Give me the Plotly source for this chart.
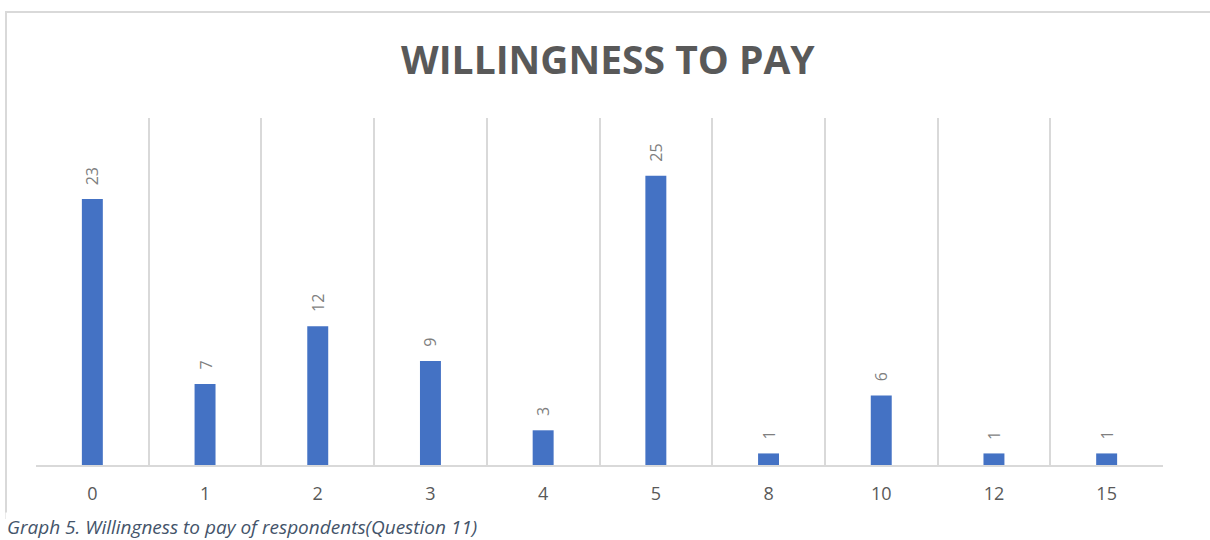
import plotly.graph_objects as go

# Amount respondents are willing to pay (categories) and respondent counts
amounts = ["0", "1", "2", "3", "4", "5", "8", "10", "12", "15"]
respondents = [23, 7, 12, 9, 3, 25, 1, 6, 1, 1]

chart_title = "WILLINGNESS TO PAY"
caption = "Graph 5. Willingness to pay of respondents(Question 11)"

W, H = 1210, 540
L, R, T, B = 36, 47, 118, 75
plot_w = W - L - R
plot_h = H - T - B


def px_x(px):
    return (px - L) / plot_w


def px_y(py):
    return (H - B - py) / plot_h


fig = go.Figure(
    go.Bar(
        x=amounts,
        y=respondents,
        marker=dict(color="#4472C4", line=dict(width=0)),
        hoverinfo="x+y",
    )
)

# rotated value labels above each bar (category index positions)
for idx, val in enumerate(respondents):
    fig.add_annotation(
        x=idx, y=val, xref="x", yref="y",
        text=str(val), textangle=-90, showarrow=False,
        xanchor="center", yanchor="bottom", yshift=12,
        font=dict(family="Open Sans", size=16, color="#7F7F7F"),
    )

# chart title
fig.add_annotation(
    x=px_x(608), y=px_y(59), xref="paper", yref="paper",
    text=f"<b>{chart_title}</b>", showarrow=False,
    xanchor="center", yanchor="middle",
    font=dict(family="Open Sans", size=39, color="#595959"),
)

# figure caption below the chart frame
fig.add_annotation(
    x=px_x(5), y=px_y(527), xref="paper", yref="paper",
    text=caption, showarrow=False,
    xanchor="left", yanchor="middle",
    bgcolor="white",
    font=dict(family="Open Sans", size=19, color="#44546A", style="italic"),
)

# chart frame (top and left edges; right edge runs past the page)
x0, y0 = px_x(6), px_y(12)
x1, yb = px_x(1230), px_y(519)
fig.add_shape(
    type="path", xref="paper", yref="paper",
    path=f"M {x0} {yb} L {x0} {y0} L {x1} {y0}",
    line=dict(color="#D9D9D9", width=2), layer="below",
)

fig.update_layout(
    width=W, height=H,
    margin=dict(l=L, r=R, t=T, b=B, pad=0),
    paper_bgcolor="white", plot_bgcolor="white",
    bargap=0.814,
    showlegend=False,
    xaxis=dict(
        type="category",
        range=[-0.5, len(amounts) - 0.5],
        tickson="boundaries",
        showgrid=True, gridcolor="#D9D9D9", gridwidth=1.5,
        showline=True, linecolor="#D9D9D9", linewidth=2,
        ticks="", ticklabelstandoff=11,
        tickfont=dict(family="Open Sans", size=18, color="#595959"),
        zeroline=False,
    ),
    yaxis=dict(
        range=[0, 30],
        showgrid=False, showticklabels=False, zeroline=False, showline=False,
    ),
)

fig.write_html("out.html")
